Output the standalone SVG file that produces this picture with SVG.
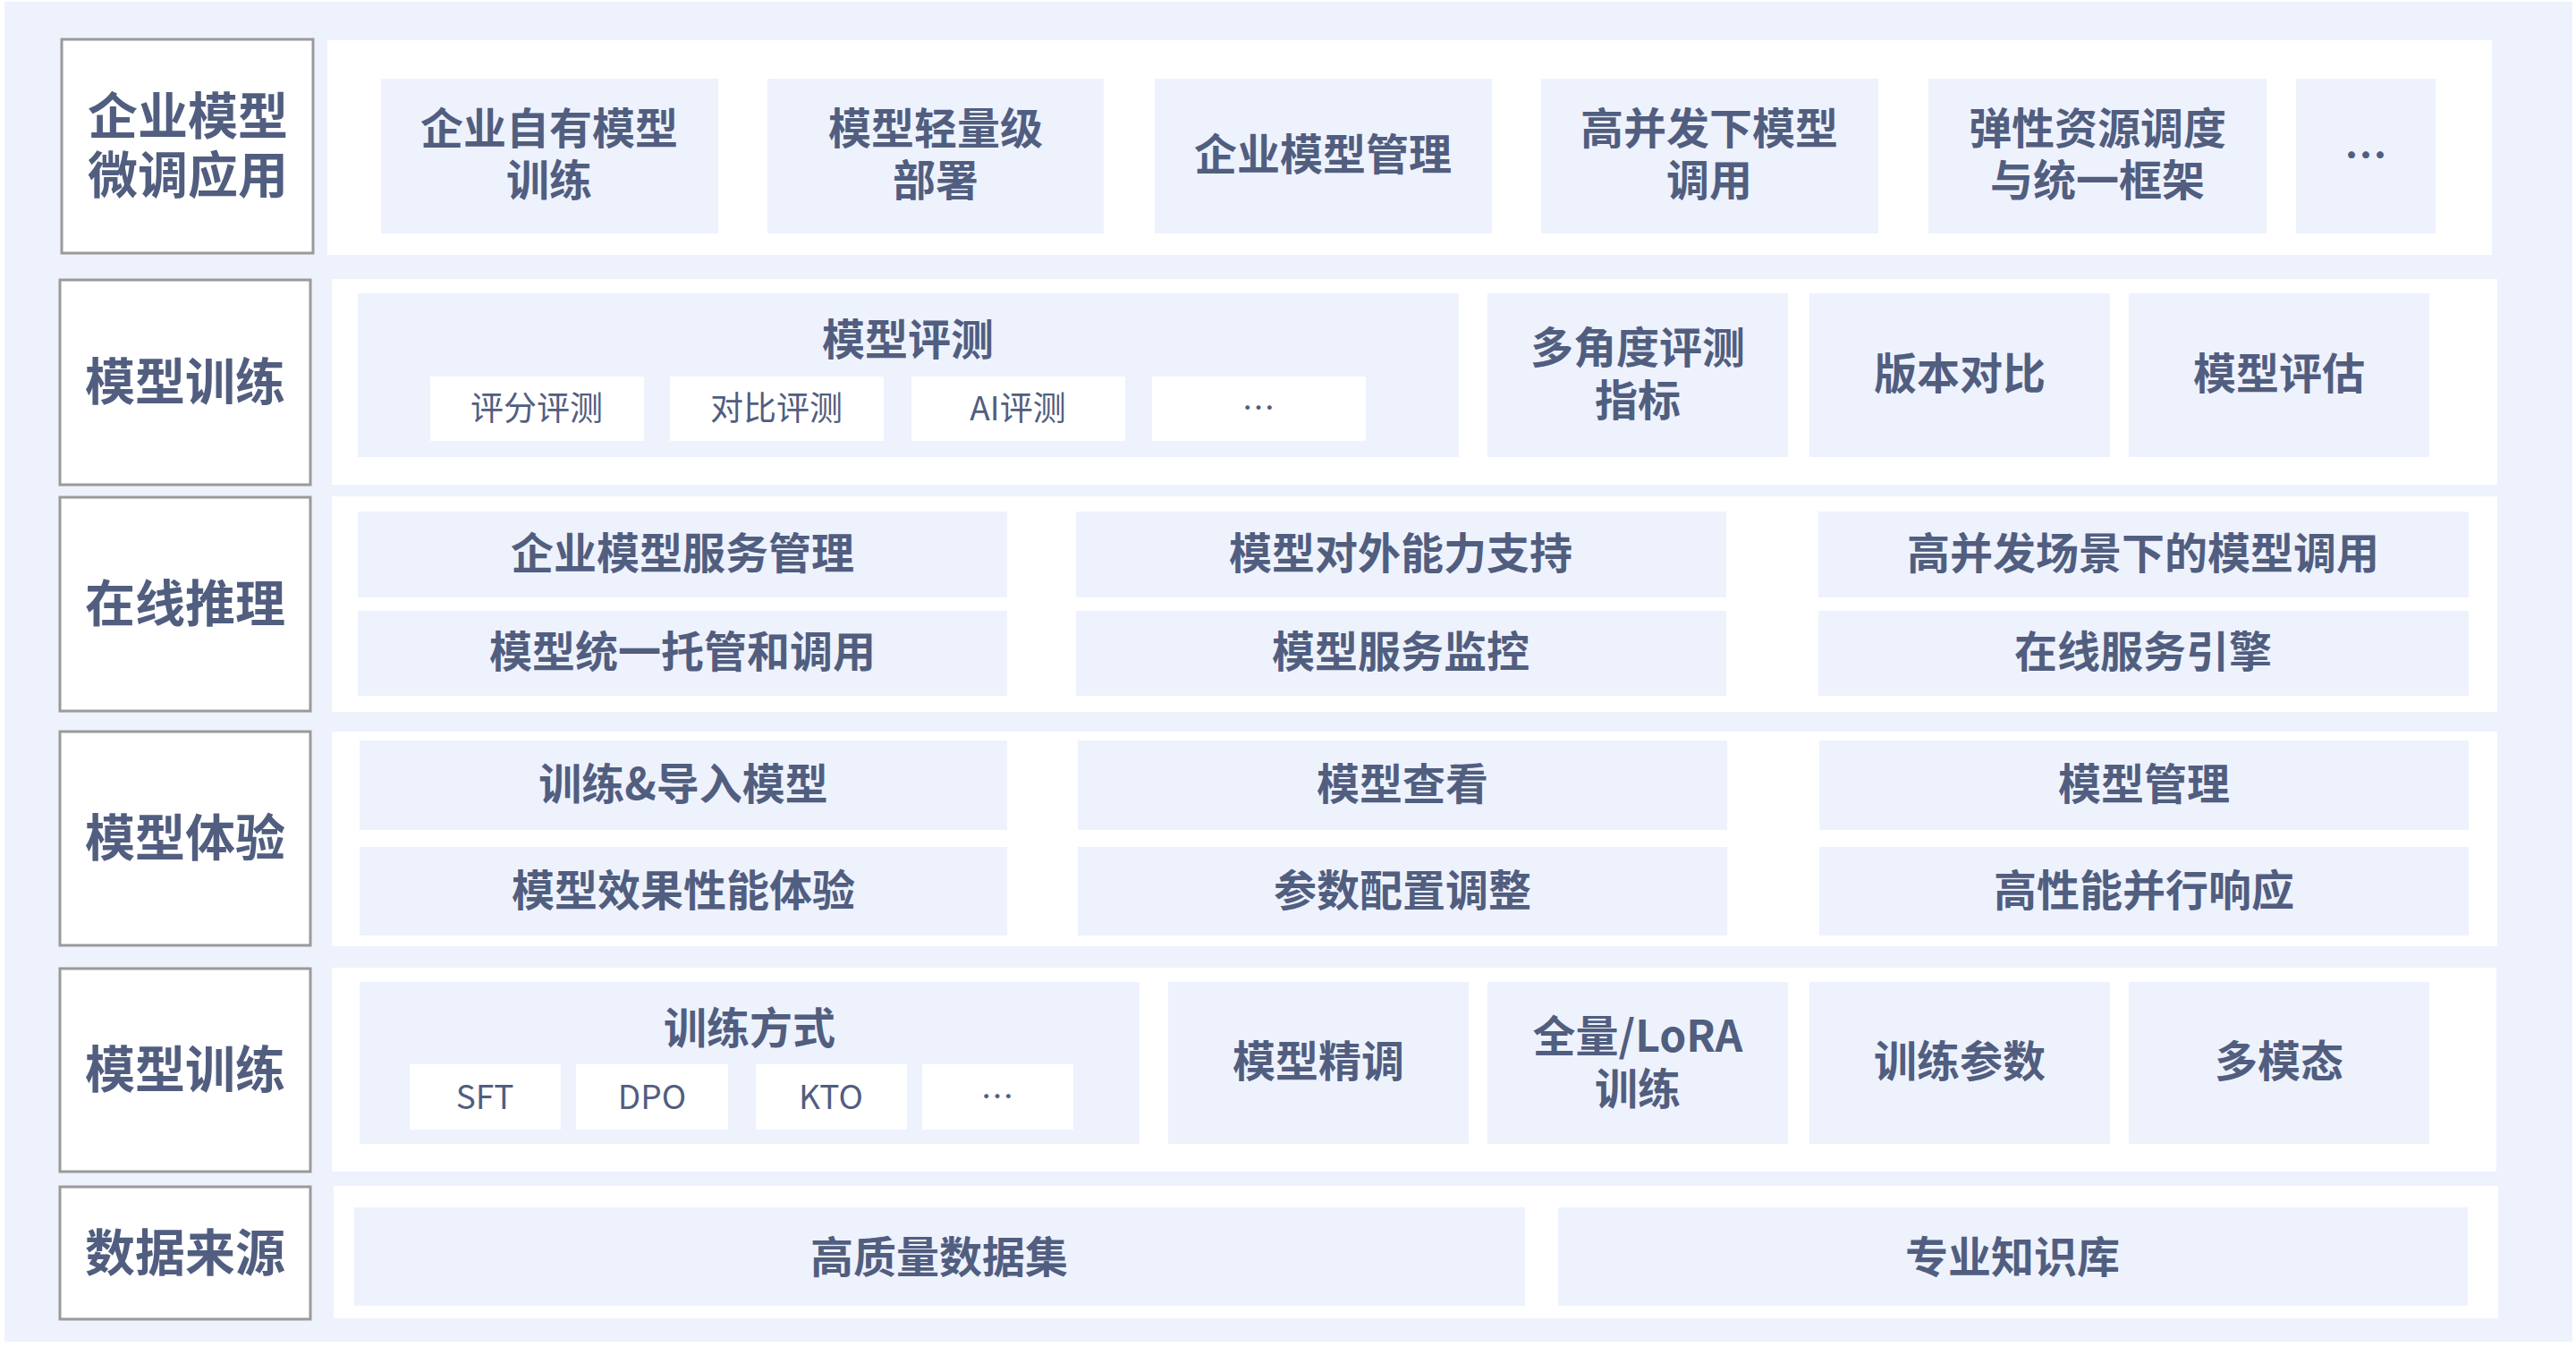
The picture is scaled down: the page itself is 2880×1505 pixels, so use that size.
<svg xmlns="http://www.w3.org/2000/svg" width="2880" height="1505" viewBox="0 0 2880 1505">
<style>
.bg{fill:#EEF2FD}
.panel{fill:#FFFFFF}
.lab{fill:#FFFFFF;stroke:#9A9A9A;stroke-width:3}
.item{fill:#EEF2FD}
.sub{fill:#FFFFFF}
text{font-family:"Noto Sans CJK SC","Noto Sans",sans-serif;fill:#515E7F;text-anchor:middle;dominant-baseline:central}
.lt{font-size:56px;font-weight:700}
.it{font-size:48px;font-weight:700}
.st{font-size:37px;font-weight:400}
</style>
<rect x="0" y="0" width="2880" height="1505" fill="#FFFFFF"/>
<rect class="bg" x="5" y="2" width="2871" height="1498"/>

<g id="panels">
<rect class="panel" x="366" y="45" width="2420" height="240"/>
<rect class="panel" x="371" y="312" width="2421" height="230"/>
<rect class="panel" x="371" y="555" width="2421" height="241"/>
<rect class="panel" x="371" y="818" width="2421" height="240"/>
<rect class="panel" x="371" y="1082" width="2420" height="228"/>
<rect class="panel" x="373" y="1326" width="2420" height="148"/>
</g>

<g id="label-row1"><rect class="lab" x="69" y="44" width="281" height="239"/><text class="lt"><tspan x="210" y="125">企业模型</tspan><tspan x="210" y="191">微调应用</tspan></text></g>
<g id="label-row2"><rect class="lab" x="67" y="313" width="280" height="229"/><text class="lt" x="207" y="422">模型训练</text></g>
<g id="label-row3"><rect class="lab" x="67" y="556" width="280" height="239"/><text class="lt" x="207" y="670">在线推理</text></g>
<g id="label-row4"><rect class="lab" x="67" y="818" width="280" height="239"/><text class="lt" x="207" y="932">模型体验</text></g>
<g id="label-row5"><rect class="lab" x="67" y="1083" width="280" height="227"/><text class="lt" x="207" y="1191">模型训练</text></g>
<g id="label-row6"><rect class="lab" x="67" y="1327" width="280" height="148"/><text class="lt" x="207" y="1396">数据来源</text></g>

<g id="r1-own"><rect class="item" x="426" y="88" width="377" height="173"/><text class="it"><tspan x="614" y="140">企业自有模型</tspan><tspan x="614" y="198">训练</tspan></text></g>
<g id="r1-light"><rect class="item" x="858" y="88" width="376" height="173"/><text class="it"><tspan x="1046" y="140">模型轻量级</tspan><tspan x="1046" y="198">部署</tspan></text></g>
<g id="r1-manage"><rect class="item" x="1291" y="88" width="377" height="173"/><text class="it" x="1479" y="169">企业模型管理</text></g>
<g id="r1-concurrent"><rect class="item" x="1723" y="88" width="377" height="173"/><text class="it"><tspan x="1911" y="140">高并发下模型</tspan><tspan x="1911" y="198">调用</tspan></text></g>
<g id="r1-elastic"><rect class="item" x="2156" y="88" width="378" height="173"/><text class="it"><tspan x="2345" y="140">弹性资源调度</tspan><tspan x="2345" y="198">与统一框架</tspan></text></g>
<g id="r1-more"><rect class="item" x="2567" y="88" width="156" height="173"/><text class="it" x="2645" y="170">…</text></g>

<g id="r2-eval"><rect class="item" x="400" y="328" width="1231" height="183"/><text class="it" x="1015" y="376">模型评测</text>
<rect class="sub" x="481" y="421" width="239" height="72"/><text class="st" x="600" y="454">评分评测</text>
<rect class="sub" x="749" y="421" width="239" height="72"/><text class="st" x="868" y="454">对比评测</text>
<rect class="sub" x="1019" y="421" width="239" height="72"/><text class="st" x="1138" y="454">AI评测</text>
<rect class="sub" x="1288" y="421" width="239" height="72"/><text class="st" x="1407" y="454">…</text></g>
<g id="r2-metrics"><rect class="item" x="1663" y="328" width="336" height="183"/><text class="it"><tspan x="1831" y="385">多角度评测</tspan><tspan x="1831" y="444">指标</tspan></text></g>
<g id="r2-version"><rect class="item" x="2023" y="328" width="336" height="183"/><text class="it" x="2191" y="414">版本对比</text></g>
<g id="r2-assess"><rect class="item" x="2380" y="328" width="336" height="183"/><text class="it" x="2548" y="414">模型评估</text></g>

<g id="r3-a"><rect class="item" x="400" y="572" width="726" height="96"/><text class="it" x="763" y="615">企业模型服务管理</text></g>
<g id="r3-b"><rect class="item" x="1203" y="572" width="727" height="96"/><text class="it" x="1566" y="615">模型对外能力支持</text></g>
<g id="r3-c"><rect class="item" x="2033" y="572" width="727" height="96"/><text class="it" x="2396" y="615">高并发场景下的模型调用</text></g>
<g id="r3-d"><rect class="item" x="400" y="683" width="726" height="95"/><text class="it" x="763" y="725">模型统一托管和调用</text></g>
<g id="r3-e"><rect class="item" x="1203" y="683" width="727" height="95"/><text class="it" x="1566" y="725">模型服务监控</text></g>
<g id="r3-f"><rect class="item" x="2033" y="683" width="727" height="95"/><text class="it" x="2396" y="725">在线服务引擎</text></g>

<g id="r4-a"><rect class="item" x="402" y="828" width="724" height="100"/><text class="it" x="764" y="873">训练&amp;导入模型</text></g>
<g id="r4-b"><rect class="item" x="1205" y="828" width="726" height="100"/><text class="it" x="1568" y="873">模型查看</text></g>
<g id="r4-c"><rect class="item" x="2034" y="828" width="726" height="100"/><text class="it" x="2397" y="873">模型管理</text></g>
<g id="r4-d"><rect class="item" x="402" y="947" width="724" height="99"/><text class="it" x="764" y="992">模型效果性能体验</text></g>
<g id="r4-e"><rect class="item" x="1205" y="947" width="726" height="99"/><text class="it" x="1568" y="992">参数配置调整</text></g>
<g id="r4-f"><rect class="item" x="2034" y="947" width="726" height="99"/><text class="it" x="2397" y="992">高性能并行响应</text></g>

<g id="r5-method"><rect class="item" x="402" y="1098" width="872" height="181"/><text class="it" x="838" y="1146">训练方式</text>
<rect class="sub" x="458" y="1190" width="169" height="73"/><text class="st" x="542" y="1224">SFT</text>
<rect class="sub" x="644" y="1190" width="170" height="73"/><text class="st" x="729" y="1224">DPO</text>
<rect class="sub" x="845" y="1190" width="169" height="73"/><text class="st" x="929" y="1224">KTO</text>
<rect class="sub" x="1031" y="1190" width="169" height="73"/><text class="st" x="1115" y="1224">…</text></g>
<g id="r5-finetune"><rect class="item" x="1306" y="1098" width="336" height="181"/><text class="it" x="1474" y="1183">模型精调</text></g>
<g id="r5-lora"><rect class="item" x="1663" y="1098" width="336" height="181"/><text class="it"><tspan x="1831" y="1155">全量/LoRA</tspan><tspan x="1831" y="1214">训练</tspan></text></g>
<g id="r5-params"><rect class="item" x="2023" y="1098" width="336" height="181"/><text class="it" x="2191" y="1183">训练参数</text></g>
<g id="r5-multi"><rect class="item" x="2380" y="1098" width="336" height="181"/><text class="it" x="2548" y="1183">多模态</text></g>

<g id="r6-data"><rect class="item" x="396" y="1350" width="1309" height="110"/><text class="it" x="1050" y="1402">高质量数据集</text></g>
<g id="r6-kb"><rect class="item" x="1742" y="1350" width="1017" height="110"/><text class="it" x="2250" y="1402">专业知识库</text></g>

<g id="connectors"></g>
</svg>
